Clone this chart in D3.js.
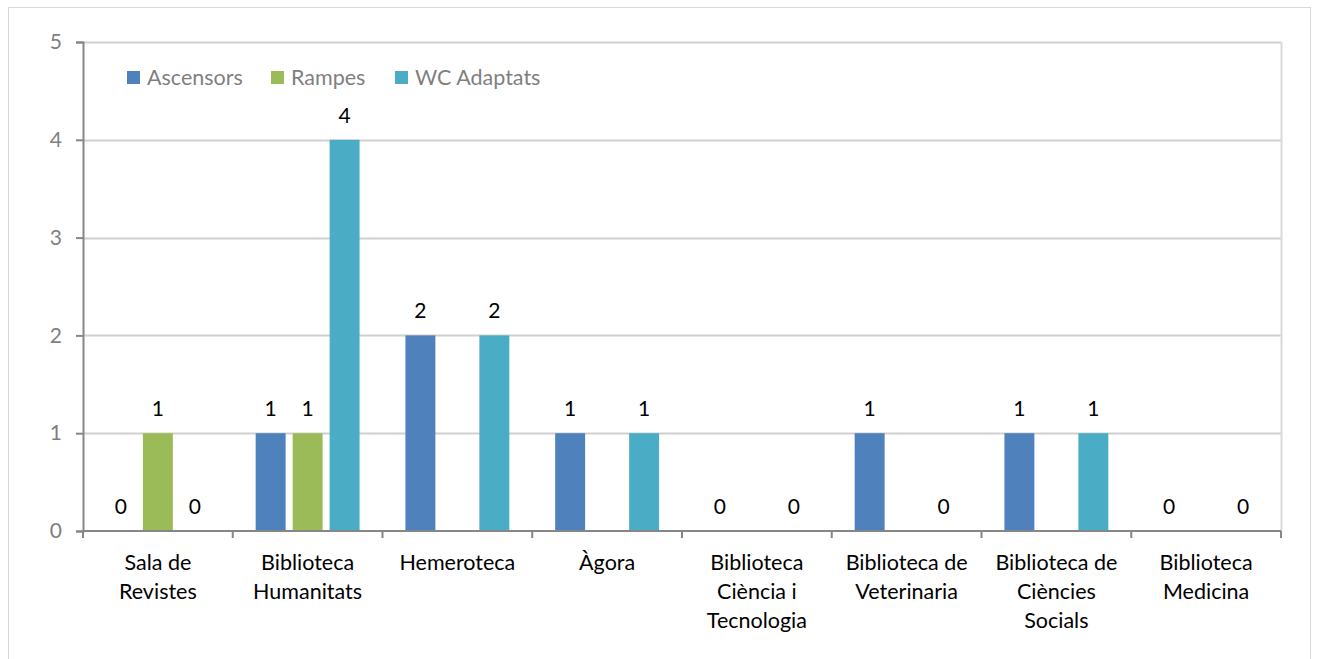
<!DOCTYPE html>
<html lang="ca">
<head>
<meta charset="utf-8">
<title>Accessibilitat biblioteques</title>
<script src="https://d3js.org/d3.v7.min.js"></script>
<style>
html,body {margin:0; padding:0; background:#fff;}
svg {display:block;}
text {font-family: Lato, "Open Sans", sans-serif;}
</style>
</head>
<body>
<script>
// data
var categories = ['Sala de\nRevistes', 'Biblioteca\nHumanitats', 'Hemeroteca', 'Àgora',
  'Biblioteca\nCiència i\nTecnologia', 'Biblioteca de\nVeterinaria', 'Biblioteca de\nCiències\nSocials', 'Biblioteca\nMedicina']
var series = ['Ascensors', 'Rampes', 'WC Adaptats']
var ascensors = [0, 1, 2, 1, 0, 1, 1, 0]
var rampes    = [1, 1, null, null, null, null, null, null]
var wc        = [0, 4, 2, 1, 0, 0, 1, 0]
var colors = ['#4f81bd', '#9bbb59', '#4bacc6']
var yTicks = [0, 1, 2, 3, 4, 5]

var W = 1318, H = 659
var margin = {top: 42, right: 37, bottom: 128, left: 83}
var pw = W - margin.left - margin.right
var ph = H - margin.top - margin.bottom

var values = [ascensors, rampes, wc]

var svg = d3.select('body').append('svg').attr('width', W).attr('height', H)

// outer chart border
svg.append('rect').attr('x', 8.5).attr('y', 7.5).attr('width', 1302).attr('height', 700)
   .attr('fill', 'none').attr('stroke', '#d9d9d9')

var g = svg.append('g').attr('transform', `translate(${margin.left},${margin.top})`)

var x0 = d3.scaleBand().domain(d3.range(categories.length)).range([0, pw]).padding(0)
var x1 = d3.scaleBand().domain(d3.range(series.length)).range([0, x0.bandwidth()])
           .paddingInner(0.19).paddingOuter(0.62)
var y = d3.scaleLinear().domain([0, 5]).range([ph, 0])

// gridlines
g.append('g').selectAll('line').data(yTicks.slice(1)).join('line')
  .attr('x1', 0).attr('x2', pw)
  .attr('y1', d => Math.round(y(d)) + 0.5).attr('y2', d => Math.round(y(d)) + 0.5)
  .attr('stroke', '#d0d0d0').attr('stroke-width', 2)
g.append('line').attr('x1', pw + 0.5).attr('x2', pw + 0.5).attr('y1', 0).attr('y2', ph)
  .attr('stroke', '#d9d9d9').attr('stroke-width', 2)

// bars
series.forEach(function(s, si) {
  var vals = values[si]
  var gs = g.append('g')
  var pts = vals.map((v, i) => ({i: i, v: v})).filter(d => d.v !== null)
  gs.selectAll('rect').data(pts.filter(d => d.v > 0)).join('rect')
    .attr('x', d => x0(d.i) + x1(si))
    .attr('y', d => y(d.v))
    .attr('width', x1.bandwidth())
    .attr('height', d => y(0) - y(d.v))
    .attr('fill', colors[si])
  gs.selectAll('text').data(pts).join('text')
    .attr('x', d => x0(d.i) + x1(si) + x1.bandwidth() / 2)
    .attr('y', d => y(d.v) - 17)
    .attr('text-anchor', 'middle')
    .attr('font-size', 21)
    .attr('fill', '#000')
    .text(d => d.v)
})

// y axis
var yAxis = d3.axisLeft(y).tickValues(yTicks).tickSize(7).tickPadding(14).tickFormat(d3.format('d'))
var yg = g.append('g').call(yAxis)
yg.selectAll('path, line').attr('stroke', '#868686').attr('stroke-width', 2)
yg.selectAll('text').attr('font-size', 21).attr('fill', '#7f7f7f').style('font-family', 'Lato, sans-serif')

// x axis
var xg = g.append('g').attr('transform', `translate(0,${ph})`)
xg.append('line').attr('x1', 0).attr('x2', pw).attr('y1', 0).attr('y2', 0)
  .attr('stroke', '#868686').attr('stroke-width', 2)
xg.selectAll('line.tk').data(d3.range(categories.length + 1)).join('line').attr('class', 'tk')
  .attr('x1', d => d * x0.step()).attr('x2', d => d * x0.step())
  .attr('y1', 0).attr('y2', 7).attr('stroke', '#868686').attr('stroke-width', 2)
xg.selectAll('text').data(categories).join('text')
  .attr('text-anchor', 'middle')
  .attr('font-size', 21.5)
  .attr('fill', '#000')
  .each(function(d, i) {
    var t = d3.select(this)
    d.split('\n').forEach(function(line, li) {
      t.append('tspan').attr('x', x0(i) + x0.bandwidth() / 2).attr('y', 39 + li * 29).text(line)
    })
  })

// legend
var legX = [127, 271, 395]
var lg = svg.append('g')
series.forEach(function(s, si) {
  lg.append('rect').attr('x', legX[si]).attr('y', 71).attr('width', 13).attr('height', 13).attr('fill', colors[si])
  lg.append('text').attr('x', legX[si] + 20).attr('y', 85).attr('font-size', 21.5).attr('fill', '#7f7f7f').text(s)
})
</script>
</body>
</html>
